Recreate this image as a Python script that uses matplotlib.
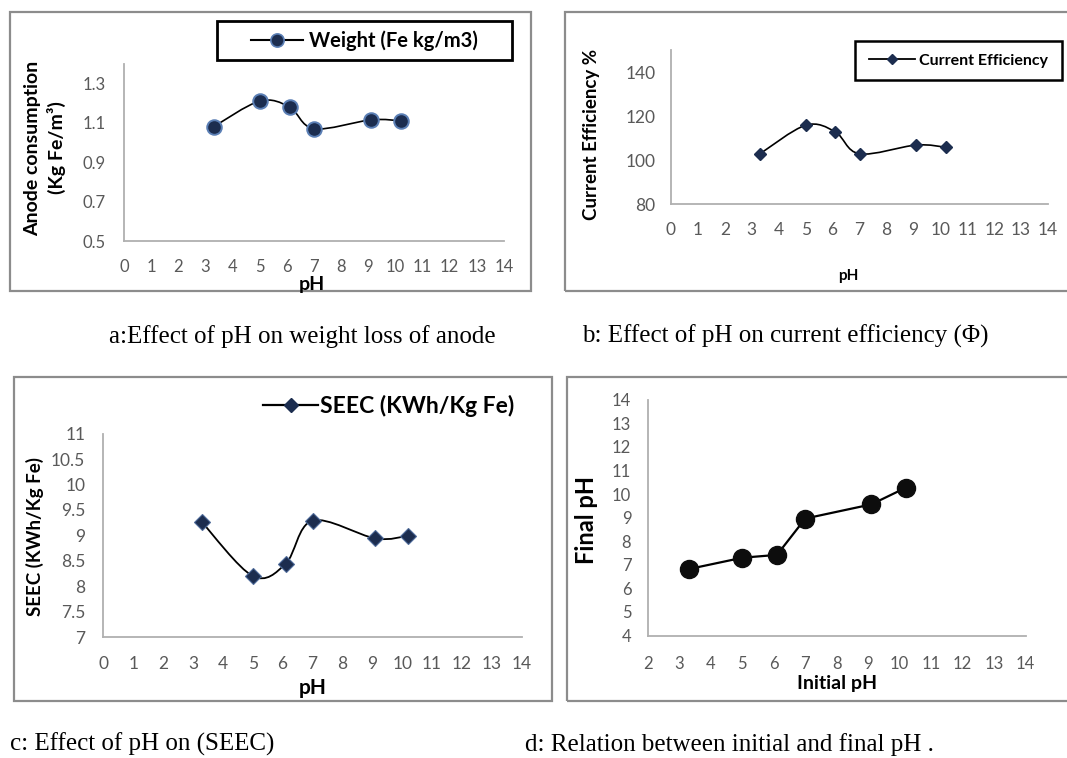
import numpy as np
import matplotlib
matplotlib.use("Agg")
import matplotlib.pyplot as plt
from matplotlib.path import Path
from matplotlib.patches import PathPatch, Rectangle
from matplotlib.lines import Line2D

# measured values against initial pH
ph = [3.3, 5, 6.1, 7, 9.1, 10.2]
anode_weight = [1.08, 1.21, 1.18, 1.07, 1.115, 1.11]
current_eff = [103, 116, 113, 103, 107, 106]
seec = [9.26, 8.2, 8.44, 9.29, 8.94, 8.99]
final_ph = [6.82, 7.3, 7.42, 8.96, 9.56, 10.27]

ticks_a = [0.5, 0.7, 0.9, 1.1, 1.3]
ticks_b = [80, 100, 120, 140]
ticks_c = [7, 7.5, 8, 8.5, 9, 9.5, 10, 10.5, 11]
ticks_d = list(range(4, 15))

W, H = 1067, 758
NAVY = "#1c2d4f"
GREY = "#595959"
SANS = "Lato"
SERIF = "Liberation Serif"

fig = plt.figure(figsize=(W / 100, H / 100), dpi=100)


def add_axes_px(left, top, right, bottom):
    return fig.add_axes([left / W, 1 - bottom / H, (right - left) / W, (bottom - top) / H])


def frame_px(left, top, right, bottom):
    fig.patches.append(Rectangle((left / W, 1 - bottom / H), (right - left) / W, (bottom - top) / H,
                                 transform=fig.transFigure, fill=False, ec="#8c8c8c", lw=1.6))


def text_px(x, y, s, **kw):
    fig.text(x / W, 1 - y / H, s, **kw)


def smooth_path(x, y):
    # cubic bezier through the points, like a spreadsheet "smoothed line"
    x = np.asarray(x, float)
    y = np.asarray(y, float)
    n = len(x)
    verts = [(x[0], y[0])]
    codes = [Path.MOVETO]
    for i in range(n - 1):
        xp, yp = (x[i - 1], y[i - 1]) if i > 0 else (x[i], y[i])
        xn, yn = (x[i + 2], y[i + 2]) if i + 2 < n else (x[i + 1], y[i + 1])
        c1 = (x[i] + (x[i + 1] - xp) / 6, y[i] + (y[i + 1] - yp) / 6)
        c2 = (x[i + 1] - (xn - x[i]) / 6, y[i + 1] - (yn - y[i]) / 6)
        verts += [c1, c2, (x[i + 1], y[i + 1])]
        codes += [Path.CURVE4] * 3
    return Path(verts, codes)


def style_axes(ax, xlim, ylim, yticks, ylabels, xticks, size, padx, pady):
    ax.set_xlim(*xlim)
    ax.set_ylim(*ylim)
    ax.set_xticks(xticks)
    ax.set_yticks(yticks)
    ax.set_yticklabels(ylabels)
    for side in ["top", "right"]:
        ax.spines[side].set_visible(False)
    for side in ["left", "bottom"]:
        ax.spines[side].set_color("#b0b0b0")
        ax.spines[side].set_linewidth(1.3)
    ax.tick_params(length=0, labelsize=size, labelcolor=GREY)
    ax.tick_params(axis="x", pad=padx)
    ax.tick_params(axis="y", pad=pady)
    for lab in ax.get_xticklabels() + ax.get_yticklabels():
        lab.set_family(SANS)
    ax.patch.set_alpha(0)


# panel frames
frame_px(10, 12, 531, 291)
frame_px(565, 12, 1080, 291)
frame_px(14, 377, 552, 701)
frame_px(567, 377, 1080, 701)

# a: anode consumption
ax = add_axes_px(124, 63.7, 504, 241)
style_axes(ax, (0, 14), (0.5, 1.4), ticks_a, [f"{v:.1f}" for v in ticks_a], range(0, 15), 12, 13, 13)
ax.add_patch(PathPatch(smooth_path(ph, anode_weight), fill=False, ec="black", lw=1.2))
ax.plot(ph, anode_weight, ls="none", marker="o", ms=10.5, mfc=NAVY, mec="#5b7fb5", mew=1.4)
text_px(312, 285, "pH", ha="center", va="center", family=SANS, weight="bold", fontsize=14)
text_px(45, 148, "Anode consumption\n(Kg Fe/m³)", ha="center", va="center", rotation=90,
        family=SANS, weight="bold", fontsize=14, linespacing=1.35)
fig.patches.append(Rectangle((217 / W, 1 - 60.3 / H), 295 / W, 39.6 / H, transform=fig.transFigure,
                             fill=False, ec="black", lw=2))
h = Line2D([], [], color="black", lw=1.5, marker="o", ms=9.5, mfc=NAVY, mec="#5b7fb5", mew=1.2)
ax.legend([h], ["Weight (Fe kg/m3)"], loc="center left", bbox_to_anchor=(251 / W, 1 - 40.5 / H),
          bbox_transform=fig.transFigure, frameon=False, handlelength=2.6, handletextpad=0.3,
          borderpad=0, borderaxespad=0, prop={"family": SANS, "weight": "bold", "size": 14.5})

# b: current efficiency
ax = add_axes_px(671, 50.5, 1048, 204.4)
style_axes(ax, (0, 14), (80, 150), ticks_b, [str(v) for v in ticks_b], range(0, 15), 12.5, 13, 11)
ax.add_patch(PathPatch(smooth_path(ph, current_eff), fill=False, ec="black", lw=1.2))
ax.plot(ph, current_eff, ls="none", marker="D", ms=6, mfc=NAVY, mec=NAVY)
text_px(848, 276, "pH", ha="center", va="center", family=SANS, weight="bold", fontsize=11)
text_px(592, 134, "Current Efficiency %", ha="center", va="center", rotation=90,
        family=SANS, weight="bold", fontsize=13.5)
fig.patches.append(Rectangle((855 / W, 1 - 79.7 / H), 207 / W, 38.4 / H, transform=fig.transFigure,
                             fill=False, ec="black", lw=1.8))
h = Line2D([], [], color="black", lw=1.3, marker="D", ms=5, mfc=NAVY, mec=NAVY)
ax.legend([h], ["Current Efficiency"], loc="center left", bbox_to_anchor=(869 / W, 1 - 60.5 / H),
          bbox_transform=fig.transFigure, frameon=False, handlelength=2.9, handletextpad=0.2,
          borderpad=0, borderaxespad=0, prop={"family": SANS, "weight": "bold", "size": 11.5})

# c: specific electrical energy consumption
ax = add_axes_px(103.3, 433.7, 521.7, 637)
style_axes(ax, (0, 14), (7, 11), ticks_c, [f"{v:g}" for v in ticks_c], range(0, 15), 12.5, 14, 13)
ax.add_patch(PathPatch(smooth_path(ph, seec), fill=False, ec="black", lw=1.3))
ax.plot(ph, seec, ls="none", marker="D", ms=8, mfc=NAVY, mec="#4d6a99", mew=0.8)
text_px(313, 688, "pH", ha="center", va="center", family=SANS, weight="bold", fontsize=15)
text_px(35, 537, "SEEC (KWh/Kg Fe)", ha="center", va="center", rotation=90,
        family=SANS, weight="bold", fontsize=13.5)
h = Line2D([], [], color="black", lw=1.6, marker="D", ms=7, mfc=NAVY, mec=NAVY)
ax.legend([h], ["SEEC (KWh/Kg Fe)"], loc="center left", bbox_to_anchor=(263 / W, 1 - 406 / H),
          bbox_transform=fig.transFigure, frameon=False, handlelength=2.4, handletextpad=0.1,
          borderpad=0, borderaxespad=0, prop={"family": SANS, "weight": "bold", "size": 16.5})

# d: final vs initial pH
ax = add_axes_px(648, 399.6, 1025.5, 635.6)
style_axes(ax, (2, 14), (4, 14), ticks_d, [str(v) for v in ticks_d], range(2, 15), 12, 15, 12)
ax.plot(ph, final_ph, color="black", lw=1.6, marker="o", ms=13, mfc="#0d0d0d", mec="#0d0d0d")
text_px(837, 683, "Initial pH", ha="center", va="center", family=SANS, weight="bold", fontsize=14)
text_px(587, 520, "Final pH", ha="center", va="center", rotation=90,
        family=SANS, weight="bold", fontsize=17)

# captions under each panel
cap = dict(family=SERIF, fontsize=18, va="baseline", ha="left")
text_px(109, 343, "a:Effect of pH on weight loss of anode", **cap)
text_px(582, 343, "b: Effect of pH on current efficiency (\u03a6)", **cap)
text_px(10, 751, "c: Effect of pH on (SEEC)", **cap)
text_px(525, 751, "d: Relation between initial and final pH .", **cap)

fig.savefig("out.png", dpi=100)
